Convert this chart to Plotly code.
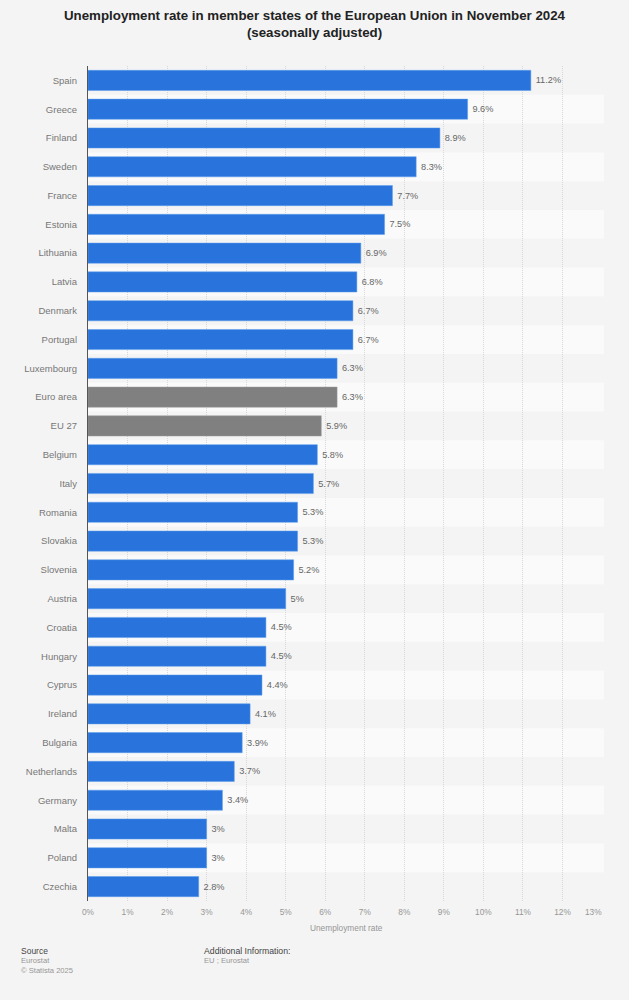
import plotly.graph_objects as go

countries = ["Spain", "Greece", "Finland", "Sweden", "France", "Estonia", "Lithuania", "Latvia",
             "Denmark", "Portugal", "Luxembourg", "Euro area", "EU 27", "Belgium", "Italy",
             "Romania", "Slovakia", "Slovenia", "Austria", "Croatia", "Hungary", "Cyprus",
             "Ireland", "Bulgaria", "Netherlands", "Germany", "Malta", "Poland", "Czechia"]
rates = [11.2, 9.6, 8.9, 8.3, 7.7, 7.5, 6.9, 6.8, 6.7, 6.7, 6.3, 6.3, 5.9, 5.8, 5.7,
         5.3, 5.3, 5.2, 5.0, 4.5, 4.5, 4.4, 4.1, 3.9, 3.7, 3.4, 3.0, 3.0, 2.8]
aggregates = ["Euro area", "EU 27"]
axis_max = 13.05
x_ticks = list(range(13)) + [axis_max]
x_labels = [f"{t}%" for t in range(13)] + [""]

BLUE, GREY = "#2874dc", "#808080"
BLUE_EDGE, GREY_EDGE = "#5c9cec", "#9a9a9a"
BG = "#f4f4f4"
FONT = "Liberation Sans"

fig = go.Figure(go.Bar(
    x=rates, y=countries, orientation="h", width=0.7,
    marker=dict(color=[GREY if c in aggregates else BLUE for c in countries],
                line=dict(color=[GREY_EDGE if c in aggregates else BLUE_EDGE for c in countries], width=0.5)),
    text=["\u2009" + f"{v:g}%" for v in rates], textposition="outside", cliponaxis=False,
    textfont=dict(family=FONT, size=9.2, color="#666666"), hoverinfo="skip",
))

for i in range(1, len(countries), 2):
    fig.add_shape(type="rect", xref="x domain", yref="y", x0=0, x1=1, y0=i - 0.5, y1=i + 0.5,
                  fillcolor="#fafafa", line_width=0, layer="below")


def note(text, x, y, size, color, xanchor="left"):
    fig.add_annotation(text=text, xref="paper", yref="paper", x=x, y=y, xanchor=xanchor, yanchor="middle",
                       showarrow=False, font=dict(family=FONT, size=size, color=color), align="left")


L, W = 87.5, 517.0
T, H = 65.5, 835.5
def px(v): return (v - L) / W
def py(v): return 1 - (v - T) / H

fig.add_annotation(text="13%", xref="x", x=axis_max, yref="paper", y=py(912.5), xanchor="right", yanchor="middle",
                   showarrow=False, font=dict(family=FONT, size=8.3, color="#969696"))
note("Unemployment rate", px(346), py(928), 8.3, "#969696", "center")
note("Source", px(18.5), py(951), 8.5, "#444444")
note("Eurostat", px(18.5), py(961), 7.6, "#969696")
note("© Statista 2025", px(18.5), py(971), 7.6, "#969696")
note("Additional Information:", px(201.5), py(951), 8.7, "#444444")
note("EU ; Eurostat", px(201.5), py(961), 7.6, "#969696")

fig.update_layout(
    width=629, height=1000, paper_bgcolor=BG, plot_bgcolor=BG, showlegend=False,
    margin=dict(l=L, r=629 - L - W, t=T, b=1000 - T - H, autoexpand=False),
    title=dict(text="<b>Unemployment rate in member states of the European Union in November 2024<br>(seasonally adjusted)</b>",
               x=0.5, xanchor="center", y=0.9805, yanchor="middle",
               font=dict(family=FONT, size=13.3, color="#222222")),
    xaxis=dict(range=[0, axis_max], tickvals=x_ticks, ticktext=x_labels, side="bottom",
               showgrid=True, gridcolor="#d8d8d8", griddash="1px,1px", gridwidth=1, zeroline=False,
               tickfont=dict(family=FONT, size=8.3, color="#969696"), ticks="outside", ticklen=3.5,
               tickcolor="rgba(0,0,0,0)", fixedrange=True),
    yaxis=dict(categoryorder="array", categoryarray=countries, autorange="reversed",
               showline=True, linecolor="#555555", linewidth=1.2, showgrid=False, ticks="outside",
               ticklen=8, tickcolor="rgba(0,0,0,0)",
               tickfont=dict(family=FONT, size=9.5, color="#777777"), fixedrange=True),
)

fig.write_html("out.html", config=dict(displayModeBar=False),
               post_script="document.body.style.margin='0';document.body.style.background='#f4f4f4';")
